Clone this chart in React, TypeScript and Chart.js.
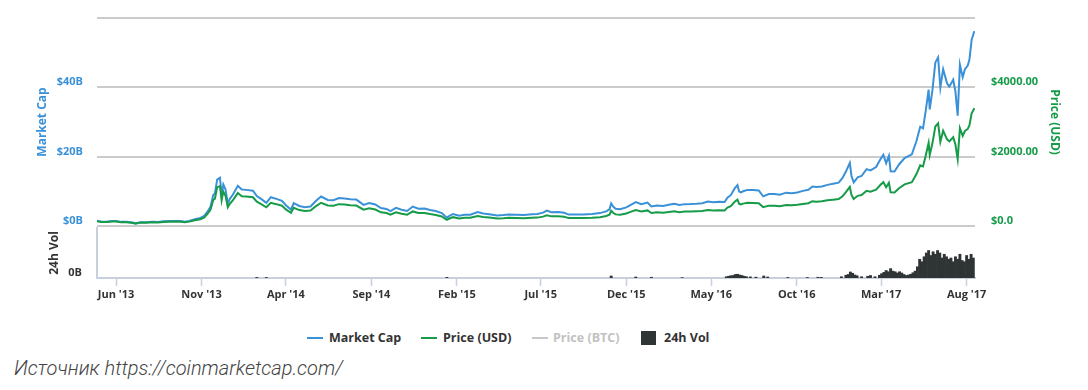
import React, { useEffect, useRef } from 'react';
import { Chart, registerables } from 'chart.js';
Chart.register(...registerables);

// ---------- data ----------
const priceDates = [
  '2013-04-28','2013-05-05','2013-05-15','2013-05-25','2013-06-01','2013-06-10','2013-06-20','2013-07-01','2013-07-06','2013-07-15',
  '2013-07-25','2013-08-05','2013-08-15','2013-08-25','2013-09-05','2013-09-15','2013-09-25','2013-10-02','2013-10-10','2013-10-20',
  '2013-10-30','2013-11-06','2013-11-12','2013-11-17','2013-11-19','2013-11-22','2013-11-25','2013-11-29','2013-12-04','2013-12-07',
  '2013-12-10','2013-12-14','2013-12-18','2013-12-22','2013-12-27','2014-01-05','2014-01-12','2014-01-20','2014-02-01','2014-02-08',
  '2014-02-15','2014-02-25','2014-03-05','2014-03-15','2014-03-25','2014-04-01','2014-04-10','2014-04-15','2014-04-25','2014-05-05',
  '2014-05-15','2014-05-25','2014-06-03','2014-06-15','2014-06-25','2014-07-05','2014-07-15','2014-07-25','2014-08-05','2014-08-18',
  '2014-08-28','2014-09-08','2014-09-18','2014-09-28','2014-10-05','2014-10-15','2014-10-25','2014-11-04','2014-11-14','2014-11-24',
  '2014-12-05','2014-12-15','2014-12-25','2015-01-05','2015-01-14','2015-01-18','2015-01-25','2015-02-05','2015-02-15','2015-02-25',
  '2015-03-10','2015-03-20','2015-03-31','2015-04-14','2015-04-25','2015-05-05','2015-05-18','2015-06-01','2015-06-15','2015-06-25',
  '2015-07-05','2015-07-12','2015-07-20','2015-08-01','2015-08-12','2015-08-20','2015-09-01','2015-09-15','2015-10-01','2015-10-15',
  '2015-10-26','2015-11-01','2015-11-04','2015-11-08','2015-11-12','2015-11-20','2015-12-01','2015-12-10','2015-12-18','2015-12-28',
  '2016-01-08','2016-01-15','2016-01-25','2016-02-05','2016-02-15','2016-02-25','2016-03-05','2016-03-15','2016-03-25','2016-04-05',
  '2016-04-15','2016-04-25','2016-05-05','2016-05-15','2016-05-25','2016-05-30','2016-06-05','2016-06-12','2016-06-17','2016-06-20',
  '2016-06-23','2016-06-27','2016-07-05','2016-07-15','2016-07-25','2016-08-02','2016-08-12','2016-08-22','2016-09-01','2016-09-12',
  '2016-09-22','2016-10-02','2016-10-12','2016-10-22','2016-10-29','2016-11-05','2016-11-15','2016-11-25','2016-12-05','2016-12-15',
  '2016-12-22','2016-12-28','2017-01-04','2017-01-07','2017-01-11','2017-01-18','2017-01-25','2017-02-03','2017-02-10','2017-02-20',
  '2017-02-28','2017-03-05','2017-03-10','2017-03-15','2017-03-18','2017-03-25','2017-04-02','2017-04-12','2017-04-25','2017-05-03',
  '2017-05-10','2017-05-15','2017-05-20','2017-05-25','2017-05-27','2017-06-01','2017-06-06','2017-06-11','2017-06-15','2017-06-20',
  '2017-06-27','2017-07-01','2017-07-08','2017-07-12','2017-07-16','2017-07-20','2017-07-25','2017-07-29','2017-08-03','2017-08-06',
  '2017-08-10','2017-08-15',
];

const priceUSD = [
  135,115,112,131,129,106,109,88,69,98,
  95,106,99,117,124,127,124,105,126,165,
  197,250,355,465,580,750,790,1120,1150,740,
  990,870,540,650,740,950,860,850,830,700,
  640,540,670,630,585,480,380,525,460,430,
  445,575,670,590,585,630,620,600,590,470,
  510,475,395,375,325,395,355,325,420,375,
  375,345,320,275,178,210,255,217,235,237,
  290,262,245,218,226,237,233,223,237,242,
  270,310,278,281,265,228,228,230,237,254,
  287,325,440,375,335,325,362,415,463,422,
  450,375,395,385,405,425,400,415,417,422,
  430,462,448,456,449,530,575,700,760,640,
  625,645,670,665,655,545,587,585,572,608,
  596,610,637,657,715,703,712,740,758,778,
  860,975,1130,895,780,870,893,1015,990,1050,
  1190,1265,1115,1245,970,965,1090,1200,1265,1490,
  1750,1720,2040,2400,2050,2400,2870,2960,2430,2750,
  2500,2440,2560,2350,1930,2820,2600,2740,2800,2900,
  3250,3400,
];

const marketCapB = [
  1.50,1.28,1.25,1.46,1.44,1.19,1.22,0.99,0.78,1.11,
  1.08,1.21,1.14,1.35,1.43,1.47,1.44,1.22,1.47,1.93,
  2.31,2.95,4.20,5.52,6.89,8.91,9.40,13.40,13.90,8.95,
  11.97,10.53,6.55,7.90,9.00,11.60,10.52,10.42,10.20,8.62,
  7.90,6.68,8.30,7.82,7.28,5.98,4.75,6.57,5.77,5.41,
  5.61,7.27,8.50,7.50,7.46,8.06,7.95,7.72,7.62,6.09,
  6.63,6.20,5.17,4.93,4.28,5.22,4.70,4.32,5.60,5.01,
  5.03,4.64,4.32,3.72,2.41,2.85,3.47,2.96,3.22,3.26,
  4.01,3.63,3.40,3.04,3.16,3.33,3.28,3.15,3.36,3.44,
  3.85,4.43,3.98,4.04,3.82,3.29,3.30,3.34,3.46,3.72,
  4.22,4.79,6.50,5.54,4.95,4.81,5.38,6.18,6.91,6.31,
  6.75,5.63,5.94,5.80,6.12,6.43,6.07,6.31,6.35,6.44,
  6.58,7.08,6.88,7.02,6.92,8.18,8.89,10.84,11.78,9.93,
  9.70,10.02,10.42,10.40,10.26,8.55,9.23,9.22,9.03,9.62,
  9.45,9.69,10.13,10.47,11.40,11.23,11.39,11.86,12.17,12.51,
  13.84,15.70,18.21,14.43,12.58,14.04,14.42,16.41,16.02,17.01,
  19.30,20.54,18.11,20.24,15.77,15.70,17.75,19.57,20.66,24.36,
  28.64,28.17,33.43,39.36,33.63,39.40,47.14,48.64,39.95,45.23,
  41.15,40.18,42.19,38.75,31.84,46.53,42.92,45.25,46.27,47.94,
  53.75,56.25,
];

const volumeDates = [
  '2014-02-08','2014-02-25','2015-01-14','2015-11-04','2015-12-18','2016-01-15','2016-03-10','2016-05-28','2016-06-01','2016-06-05',
  '2016-06-09','2016-06-13','2016-06-17','2016-06-21','2016-06-25','2016-06-29','2016-07-03','2016-07-10','2016-07-20','2016-08-03',
  '2016-08-10','2016-09-15','2016-10-20','2016-11-08','2016-11-14','2016-12-20','2016-12-28','2017-01-01','2017-01-05','2017-01-09',
  '2017-01-13','2017-01-17','2017-01-25','2017-02-05','2017-02-10','2017-02-18','2017-02-26','2017-03-02','2017-03-06','2017-03-10',
  '2017-03-14','2017-03-18','2017-03-22','2017-03-26','2017-03-30','2017-04-03','2017-04-07','2017-04-11','2017-04-15','2017-04-19',
  '2017-04-23','2017-04-27','2017-05-01','2017-05-05','2017-05-09','2017-05-13','2017-05-17','2017-05-21','2017-05-25','2017-05-29',
  '2017-06-02','2017-06-06','2017-06-10','2017-06-14','2017-06-18','2017-06-22','2017-06-26','2017-06-30','2017-07-04','2017-07-08',
  '2017-07-12','2017-07-16','2017-07-20','2017-07-24','2017-07-28','2017-08-01','2017-08-05','2017-08-09','2017-08-13',
];

const volumeB = [
  0.05,0.04,0.05,0.16,0.08,0.06,0.03,0.10,0.14,0.18,
  0.20,0.28,0.30,0.24,0.20,0.14,0.10,0.09,0.07,0.16,
  0.08,0.04,0.04,0.06,0.05,0.10,0.22,0.28,0.48,0.38,
  0.24,0.18,0.10,0.14,0.20,0.10,0.22,0.35,0.45,0.60,
  0.50,0.75,0.55,0.50,0.40,0.50,0.40,0.28,0.20,0.24,
  0.30,0.42,0.55,0.90,1.50,1.30,1.70,2.00,2.20,1.80,
  2.10,1.90,2.20,2.00,1.60,1.90,1.70,1.50,1.60,1.30,
  1.70,1.50,1.90,1.40,1.30,1.80,1.50,1.90,1.60,
];

const tickDates = ['2013-06-01','2013-11-01','2014-04-01','2014-09-01','2015-02-01','2015-07-01','2015-12-01','2016-05-01','2016-10-01','2017-03-01','2017-08-01'];
const tickLabels = ["Jun '13","Nov '13","Apr '14","Sep '14","Feb '15","Jul '15","Dec '15","May '16","Oct '16","Mar '17","Aug '17"];

const capTicks = [0, 20, 40, 60];
const priceTicks = [0, 2000, 4000, 6000];

// ---------- helpers / styles ----------
const START = Date.UTC(2013, 3, 28);
const dayOf = (s: string) => {
  const [y, m, d] = s.split('-').map(Number);
  return Math.round((Date.UTC(y, m - 1, d) - START) / 86400000);
};
const X_MAX = 1571;
const FONT = "'Open Sans', 'DejaVu Sans', sans-serif";
const BLUE = '#3a91d8';
const GREEN = '#169b48';
const GRID = '#cbcbcb';
const AXIS = '#c7d0dc';
const DARK = '#2f3434';

const noPad = (s: any) => {
  s.paddingTop = 0;
  s.paddingBottom = 0;
};

export default function App() {
  const topRef = useRef<HTMLCanvasElement>(null);
  const volRef = useRef<HTMLCanvasElement>(null);

  useEffect(() => {
    const tickDays = tickDates.map(dayOf);
    const top = new Chart(topRef.current as HTMLCanvasElement, {
      type: 'line',
      data: {
        datasets: [
          {
            label: 'Price (USD)',
            data: priceDates.map((d, i) => ({ x: dayOf(d), y: priceUSD[i] })),
            borderColor: GREEN,
            borderWidth: 2,
            pointRadius: 0,
            yAxisID: 'yPrice',
            order: 0,
          },
          {
            label: 'Market Cap',
            data: priceDates.map((d, i) => ({ x: dayOf(d), y: marketCapB[i] })),
            borderColor: BLUE,
            borderWidth: 2,
            pointRadius: 0,
            yAxisID: 'yCap',
            order: 1,
          },
        ],
      },
      options: {
        responsive: false,
        animation: false,
        events: [],
        layout: { padding: { top: 18, bottom: 14, left: 0, right: 0 } },
        plugins: { legend: { display: false }, tooltip: { enabled: false } },
        scales: {
          x: { type: 'linear', min: 0, max: X_MAX, display: false },
          yCap: {
            position: 'left',
            min: 0,
            max: 60,
            afterBuildTicks: (s: any) => { s.ticks = capTicks.map((v) => ({ value: v })); },
            afterFit: (s: any) => { s.width = 97; noPad(s); },
            grid: { color: GRID, lineWidth: 2, drawTicks: false },
            border: { display: false },
            ticks: {
              callback: (v: any) => (v === 60 ? '' : '$' + v + 'B'),
              color: BLUE,
              font: { family: FONT, size: 11, weight: 'bold' },
              padding: 14,
              labelOffset: -5,
            },
            title: {
              display: true,
              text: 'Market Cap',
              color: BLUE,
              font: { family: FONT, size: 12, weight: 'bold' },
              padding: { top: 35, bottom: 0 },
            },
          },
          yPrice: {
            position: 'right',
            min: 0,
            max: 6000,
            afterBuildTicks: (s: any) => { s.ticks = priceTicks.map((v) => ({ value: v })); },
            afterFit: (s: any) => { s.width = 113; noPad(s); },
            grid: { display: false, drawTicks: false },
            border: { display: false },
            ticks: {
              callback: (v: any) => (v === 0 ? '$0.0' : v === 6000 ? '' : '$' + v + '.00'),
              color: GREEN,
              font: { family: FONT, size: 11, weight: 'bold' },
              padding: 16,
              labelOffset: -5,
            },
            title: {
              display: true,
              text: 'Price (USD)',
              color: GREEN,
              font: { family: FONT, size: 12, weight: 'bold' },
              padding: { top: 26, bottom: 0 },
            },
          },
        },
      } as any,
    });

    const vol = new Chart(volRef.current as HTMLCanvasElement, {
      type: 'bar',
      data: {
        datasets: [
          {
            label: '24h Vol',
            data: volumeDates.map((d, i) => ({ x: dayOf(d), y: volumeB[i] })),
            backgroundColor: DARK,
            borderWidth: 0,
            barPercentage: 1,
            categoryPercentage: 1,
          },
        ],
      },
      options: {
        responsive: false,
        animation: false,
        events: [],
        layout: { padding: { top: 13, bottom: 0, left: 0, right: 113 } },
        plugins: { legend: { display: false }, tooltip: { enabled: false } },
        scales: {
          x: {
            type: 'linear',
            min: 0,
            max: X_MAX,
            offset: false,
            afterBuildTicks: (s: any) => { s.ticks = tickDays.map((v) => ({ value: v })); },
            afterFit: (s: any) => { s.height = 32; },
            grid: { offset: false, drawOnChartArea: false, drawTicks: true, tickLength: 8, tickColor: AXIS, tickWidth: 1.5 },
            border: { display: true, color: AXIS, width: 2 },
            ticks: {
              callback: (v: any) => {
                const i = tickDays.indexOf(v);
                return i >= 0 ? tickLabels[i] : '';
              },
              color: '#333',
              font: { family: FONT, size: 11, weight: 'bold' },
              padding: 2,
              maxRotation: 0,
              autoSkip: false,
            },
          },
          y: {
            position: 'left',
            min: 0,
            max: 4,
            afterBuildTicks: (s: any) => { s.ticks = [{ value: 0 }]; },
            afterFit: (s: any) => { s.width = 97; noPad(s); },
            grid: { display: false, drawTicks: false },
            border: { display: true, color: AXIS, width: 2 },
            ticks: {
              callback: () => '0B',
              color: '#333',
              font: { family: FONT, size: 11, weight: 'bold' },
              padding: 15,
              labelOffset: -5,
            },
            title: {
              display: true,
              text: '24h Vol',
              color: '#333',
              font: { family: FONT, size: 12, weight: 'bold' },
              padding: { top: 47, bottom: 0 },
            },
          },
        },
      } as any,
    });

    return () => {
      top.destroy();
      vol.destroy();
    };
  }, []);

  const legendText: React.CSSProperties = {
    position: 'absolute',
    top: 330,
    lineHeight: '16px',
    fontFamily: FONT,
    fontSize: 12.5,
    fontWeight: 700,
    color: '#333',
    whiteSpace: 'nowrap',
  };
  const legendLine = (left: number, color: string): React.CSSProperties => ({
    position: 'absolute',
    left,
    top: 337,
    width: 16,
    height: 2,
    background: color,
  });

  return (
    <div style={{ position: 'absolute', left: 0, top: 0, width: 1088, height: 390, background: '#fff', overflow: 'hidden' }}>
      <canvas ref={topRef} width={1088} height={240} style={{ position: 'absolute', left: 0, top: 0 }} />
      <canvas ref={volRef} width={1088} height={95} style={{ position: 'absolute', left: 0, top: 215 }} />

      <div style={legendLine(307, BLUE)} />
      <div style={{ ...legendText, left: 329 }}>Market Cap</div>
      <div style={legendLine(421, GREEN)} />
      <div style={{ ...legendText, left: 443 }}>Price (USD)</div>
      <div style={legendLine(532, '#c8c8c8')} />
      <div style={{ ...legendText, left: 553, color: '#c2c2c2' }}>Price (BTC)</div>
      <div style={{ position: 'absolute', left: 641, top: 331, width: 15, height: 14, background: DARK }} />
      <div style={{ ...legendText, left: 664 }}>24h Vol</div>

      <div
        style={{
          position: 'absolute',
          left: 14,
          top: 356,
          lineHeight: '24px',
          fontFamily: "Roboto, 'DejaVu Sans', sans-serif",
          fontStyle: 'italic',
          fontWeight: 300,
          fontSize: 20,
          color: '#444',
          whiteSpace: 'nowrap',
        }}
      >
        Источник https://coinmarketcap.com/
      </div>
    </div>
  );
}
